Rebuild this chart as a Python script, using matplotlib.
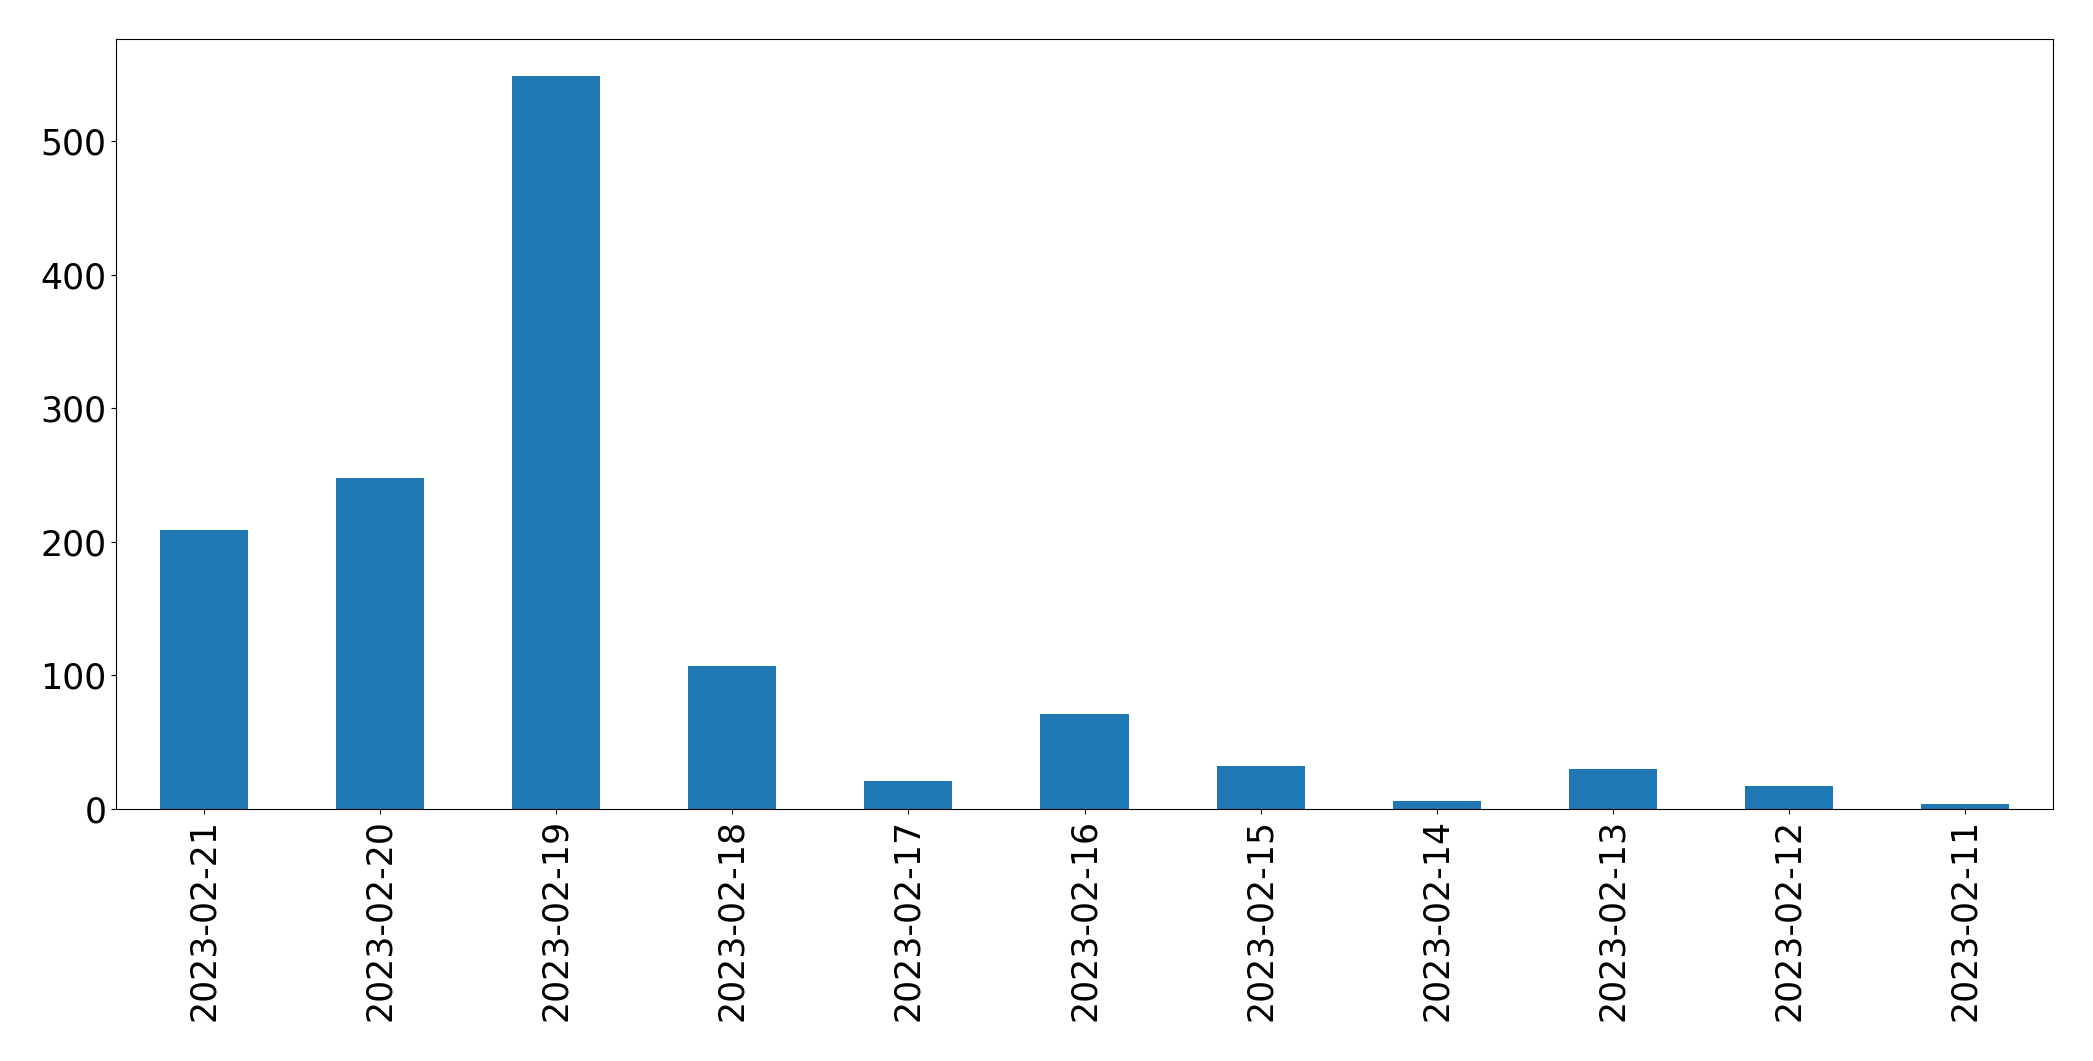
import matplotlib
matplotlib.use("Agg")
import matplotlib.pyplot as plt
import numpy as np

# daily counts, newest first
dates = ["2023-02-21", "2023-02-20", "2023-02-19", "2023-02-18", "2023-02-17",
         "2023-02-16", "2023-02-15", "2023-02-14", "2023-02-13", "2023-02-12",
         "2023-02-11"]
counts = [209, 248, 549, 107, 21, 71, 32, 6, 30, 17, 4]

fig = plt.figure(figsize=(20.93, 10.61), dpi=100)
ax = fig.add_axes([116/2093, 1 - 809/1061, (2053-116)/2093, (809-39)/1061])

x = np.arange(len(dates))
ax.bar(x, counts, width=0.5, color="#1f77b4")
ax.set_xlim(-0.5, len(dates) - 0.5)
ax.set_xticks(x)
ax.set_xticklabels(dates, rotation=90)
ax.set_yticks([0, 100, 200, 300, 400, 500])
ax.tick_params(axis="both", labelsize=25)

fig.savefig("out.png", dpi=100)
